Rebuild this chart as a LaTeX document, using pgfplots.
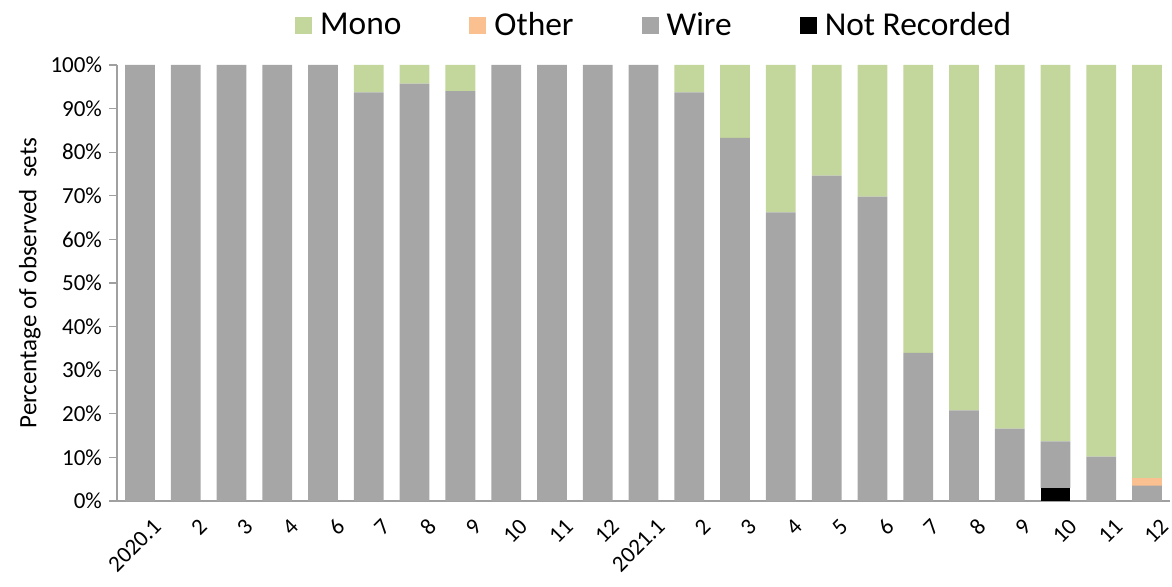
\documentclass[border=0pt]{standalone}
\usepackage{pgfplots}
\pgfplotsset{compat=1.18}
\usepackage{fontspec}
\setmainfont{Carlito}
\definecolor{mono}{HTML}{C3D69B}
\definecolor{other}{HTML}{FAC090}
\definecolor{wire}{HTML}{A6A6A6}
\definecolor{axgray}{HTML}{A0A0A0}
\begin{document}
\begin{tikzpicture}
\begin{axis}[
  scale only axis,
  width=526.5pt, height=218pt,
  ybar stacked, bar width=0.65,
  xmin=-0.5, xmax=22.5, ymin=0, ymax=100,
  xtick={0,...,22},
  xticklabels={2020.1,2,3,4,6,7,8,9,10,11,12,2021.1,2,3,4,5,6,7,8,9,10,11,12},
  x tick label style={rotate=45, anchor=north east, font=\fontsize{11.5}{13}\selectfont, inner sep=0.5pt, yshift=-6.5pt, xshift=2pt},
  major x tick style={draw=none},
  extra x ticks={-0.5,0.5,...,22.5},
  extra x tick labels={},
  extra x tick style={major tick length=5pt, tick align=outside, tick style={draw=axgray, line width=0.6pt}},
  ytick={0,10,...,100},
  yticklabel={\pgfmathprintnumber{\tick}\%},
  y tick label style={font=\fontsize{11.5}{13}\selectfont},
  /pgf/number format/assume math mode=true,
  ytick style={draw=axgray, line width=0.6pt},
  tick align=outside, major tick length=4pt,
  axis x line*=bottom, axis y line*=left,
  axis line style={draw=axgray, line width=0.6pt, -},
  ylabel={Percentage of observed\ \ sets},
  ylabel style={font=\fontsize{12.5}{14}\selectfont, yshift=-2pt},
  legend style={draw=none, fill=none, at={(0.513,1.09)}, anchor=center, legend columns=4,
    font=\fontsize{16.7}{18}\selectfont, /tikz/every even column/.append style={column sep=30pt},
    nodes={inner xsep=4pt}},
  legend image code/.code={\fill[#1] (0pt,-4pt) rectangle (8.5pt,4.5pt);},
  reverse legend,
]
% Not Recorded
\addplot+[fill=black, draw=none] coordinates {(0,0)(1,0)(2,0)(3,0)(4,0)(5,0)(6,0)(7,0)(8,0)(9,0)(10,0)(11,0)(12,0)(13,0)(14,0)(15,0)(16,0)(17,0)(18,0)(19,0)(20,3.0)(21,0)(22,0)};
% Wire
\addplot+[fill=wire, draw=none] coordinates {(0,100)(1,100)(2,100)(3,100)(4,100)(5,93.7)(6,95.7)(7,94.0)(8,100)(9,100)(10,100)(11,100)(12,93.7)(13,83.3)(14,66.2)(15,74.6)(16,69.8)(17,34.0)(18,20.8)(19,16.6)(20,10.7)(21,10.2)(22,3.5)};
% Other
\addplot+[fill=other, draw=none] coordinates {(0,0)(1,0)(2,0)(3,0)(4,0)(5,0)(6,0)(7,0)(8,0)(9,0)(10,0)(11,0)(12,0)(13,0)(14,0)(15,0)(16,0)(17,0)(18,0)(19,0)(20,0)(21,0)(22,1.8)};
% Mono
\addplot+[fill=mono, draw=none] coordinates {(0,0)(1,0)(2,0)(3,0)(4,0)(5,6.3)(6,4.3)(7,6.0)(8,0)(9,0)(10,0)(11,0)(12,6.3)(13,16.7)(14,33.8)(15,25.4)(16,30.2)(17,66.0)(18,79.2)(19,83.4)(20,86.3)(21,89.8)(22,94.7)};
\legend{Not Recorded,Wire,Other,Mono}
\end{axis}
\pgfresetboundingbox
\path[use as bounding box] ([shift={(-58.5pt,-43pt)}]current axis.south west) rectangle ([shift={(1pt,32.5pt)}]current axis.north east);
\end{tikzpicture}
\end{document}
